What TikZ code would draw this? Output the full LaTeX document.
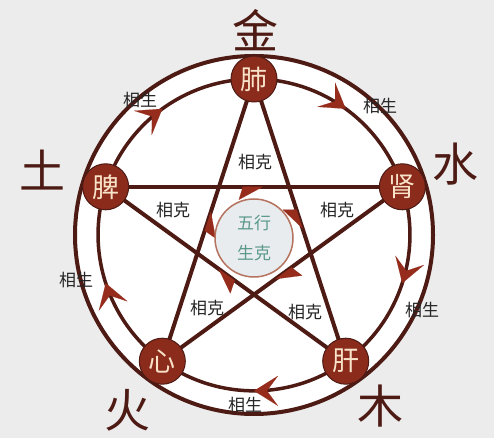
\documentclass[tikz,border=0pt]{standalone}
\usepackage{fontspec}
\setmainfont{Noto Sans CJK SC}
\usetikzlibrary{arrows.meta, calc}
\usetikzlibrary{decorations.markings}
\pgfdeclarelayer{background}
\pgfsetlayers{background,main}

\definecolor{lineBrown}{HTML}{4D1A14}
\definecolor{arrowRed}{HTML}{962C1B}
\definecolor{organRed}{HTML}{8B2B1C}
\definecolor{organText}{HTML}{F8E3C9}
\definecolor{bgGray}{HTML}{ECECEC}
\definecolor{coreFill}{HTML}{E9ECEE}
\definecolor{coreText}{HTML}{5A998C}
\definecolor{coreRing}{HTML}{B5735F}

\begin{document}
\begin{tikzpicture}[x=1pt, y=1pt, line cap=round, line join=round,
	organ/.style={circle, fill=organRed, draw=lineBrown, line width=1pt,
		minimum size=46pt, inner sep=0pt, text=organText,
		font=\fontsize{27}{27}\selectfont},
	element/.style={text=lineBrown, font=\fontsize{46}{46}\selectfont},
	relation/.style={text=black!85, font=\fontsize{17}{17}\selectfont},
	shengline/.style={draw=lineBrown, line width=3.5pt, postaction={decorate},
		decoration={markings, mark=at position 0.5 with
			{\arrow[arrowRed]{Stealth[length=24pt, width=30pt, inset=11pt, line width=0.1pt]}}}},
	keright/.style={draw=lineBrown, line width=4pt, postaction={decorate},
		decoration={markings, mark=at position 0.53 with
			{\arrow[arrowRed]{Stealth[harpoon, swap, length=24pt, width=26pt, inset=4pt, line width=0.1pt]}}}},
	keleft/.style={draw=lineBrown, line width=4pt, postaction={decorate},
		decoration={markings, mark=at position 0.53 with
			{\arrow[arrowRed]{Stealth[harpoon, length=24pt, width=26pt, inset=4pt, line width=0.1pt]}}}}
	]
	
	%========================
	% frame
	%========================
	\useasboundingbox (0,0) rectangle (494,438);
	\coordinate (c) at (254,203);
	
	%========================
	% organs on the inner circle
	%========================
	\node[organ] (jin)  at ($(c)+(90:156)$)   {肺};
	\node[organ] (shui) at ($(c)+(18:156)$)   {肾};
	\node[organ] (mu)   at ($(c)+(-54:156)$)  {肝};
	\node[organ] (huo)  at ($(c)+(-126:156)$) {心};
	\node[organ] (tu)   at ($(c)+(162:156)$)  {脾};
	
	% centre disc
	\node[circle, fill=coreFill, draw=coreRing, line width=1.5pt, minimum size=78pt,
	align=center, text=coreText, font=\fontsize{17}{30}\selectfont] (core) at (254,200) {五行\\生克};
	
	\begin{pgfonlayer}{background}
		\fill[bgGray] (0,0) rectangle (494,438);
		% outer ring
		\draw[lineBrown, line width=4pt, fill=white] (c) circle (179);
		
		% generating cycle (clockwise arcs)
		\draw[shengline] (jin.center)  to[bend left=36, looseness=0.94] (shui.center);
		\draw[shengline] (shui.center) to[bend left=36, looseness=0.94] (mu.center);
		\draw[shengline] (mu.center)   to[bend left=36, looseness=0.94] (huo.center);
		\draw[shengline] (huo.center)  to[bend left=36, looseness=0.94] (tu.center);
		\draw[shengline] (tu.center)   to[bend left=36, looseness=0.94] (jin.center);
		
		% overcoming cycle (star)
		\draw[keright] (jin.center)  -- (mu.center);
		\draw[keleft]  (mu.center)   -- (tu.center);
		\draw[keright] (tu.center)   -- (shui.center);
		\draw[keleft]  (shui.center) -- (huo.center);
		\draw[keright] (huo.center)  -- (jin.center);
	\end{pgfonlayer}
	
	%========================
	% labels
	%========================
	\node[element] (jinlabel)  at (255,408) {金};
	\node[element] (shuilabel) at (455,274) {水};
	\node[element] (mulabel)   at (380,32)  {木};
	\node[element] (huolabel)  at (127,28)  {火};
	\node[element] (tulabel)   at (42,268)  {土};
	
	\node[relation] (sheng1) at (140,338) {相生};
	\node[relation] (sheng2) at (380,332) {相生};
	\node[relation] (sheng3) at (422,128) {相生};
	\node[relation] (sheng4) at (245,33)  {相生};
	\node[relation] (sheng5) at (76,158)  {相生};
	
	\node[relation] (ke1) at (255,276) {相克};
	\node[relation] (ke2) at (173,228) {相克};
	\node[relation] (ke3) at (337,228) {相克};
	\node[relation] (ke4) at (207,130) {相克};
	\node[relation] (ke5) at (305,126) {相克};
	
\end{tikzpicture}
\end{document}
